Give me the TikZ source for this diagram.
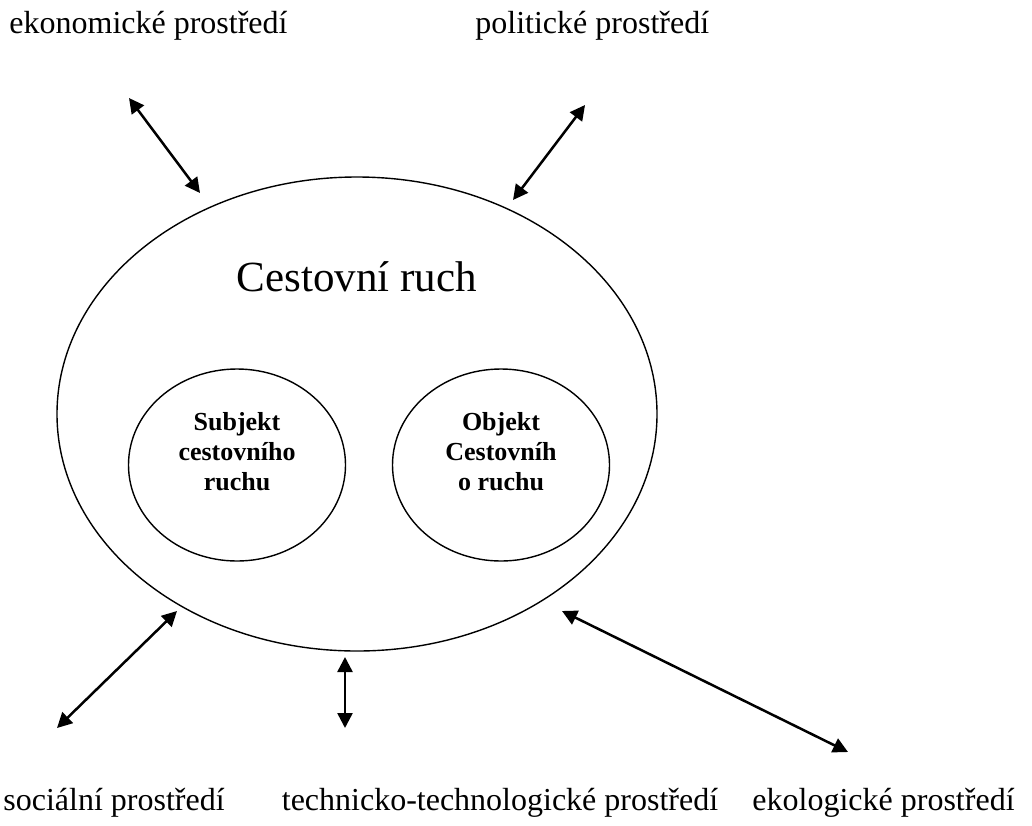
\documentclass[tikz,border=0pt]{standalone}
\usepackage{fontspec}
\setmainfont{Liberation Serif}
\usetikzlibrary{arrows.meta,shapes.geometric}

\begin{document}
\begin{tikzpicture}[x=0.5pt,y=-0.5pt,
  okoli/.style={font=\fontsize{16}{19}\selectfont,inner sep=0pt},
  vazba/.style={line width=1.25pt,{Triangle[length=7.5pt,width=7.5pt]}-{Triangle[length=7.5pt,width=7.5pt]}},
  kruh/.style={draw,ellipse,line width=0.7pt,inner sep=0pt,minimum width=108.5pt,minimum height=96pt},
  popis/.style={align=center,inner sep=0pt,font=\fontsize{13}{15}\selectfont\bfseries}]
\useasboundingbox (0,0) rectangle (1032,825);
% velka elipsa
\node[draw,ellipse,line width=0.7pt,inner sep=0pt,minimum width=300pt,minimum height=237pt] (cr) at (357,414) {};
\node[font=\fontsize{21.5}{25}\selectfont] (nazev) at (357,277) {Cestovní ruch};
\node[kruh] (subj) at (237,465) {};
\node[kruh] (obj) at (501,465) {};
\node[popis] (subjtxt) at (237,452) {Subjekt\\cestovního\\ruchu};
\node[popis] (objtxt) at (501,452) {Objekt\\Cestovníh\\o ruchu};
% okoli
\node[okoli,anchor=west] (eko) at (9,26) {ekonomické prostředí};
\node[okoli,anchor=west] (pol) at (475,26) {politické prostředí};
\node[okoli,anchor=west] (soc) at (3,803) {sociální prostředí};
\node[okoli] (tech) at (500,803) {technicko-technologické prostředí};
\node[okoli,anchor=east] (ekol) at (1015,803) {ekologické prostředí};
% konce sipek
\coordinate (a1) at (129,98);  \coordinate (b1) at (200,193);
\coordinate (a2) at (585,105); \coordinate (b2) at (513,200);
\coordinate (a3) at (57,728);  \coordinate (b3) at (177,611);
\coordinate (a4) at (345,657); \coordinate (b4) at (345,728);
\coordinate (a5) at (562,611); \coordinate (b5) at (848,752);
\foreach \i in {1,...,5} \draw[vazba] (a\i) -- (b\i);
\end{tikzpicture}
\end{document}
